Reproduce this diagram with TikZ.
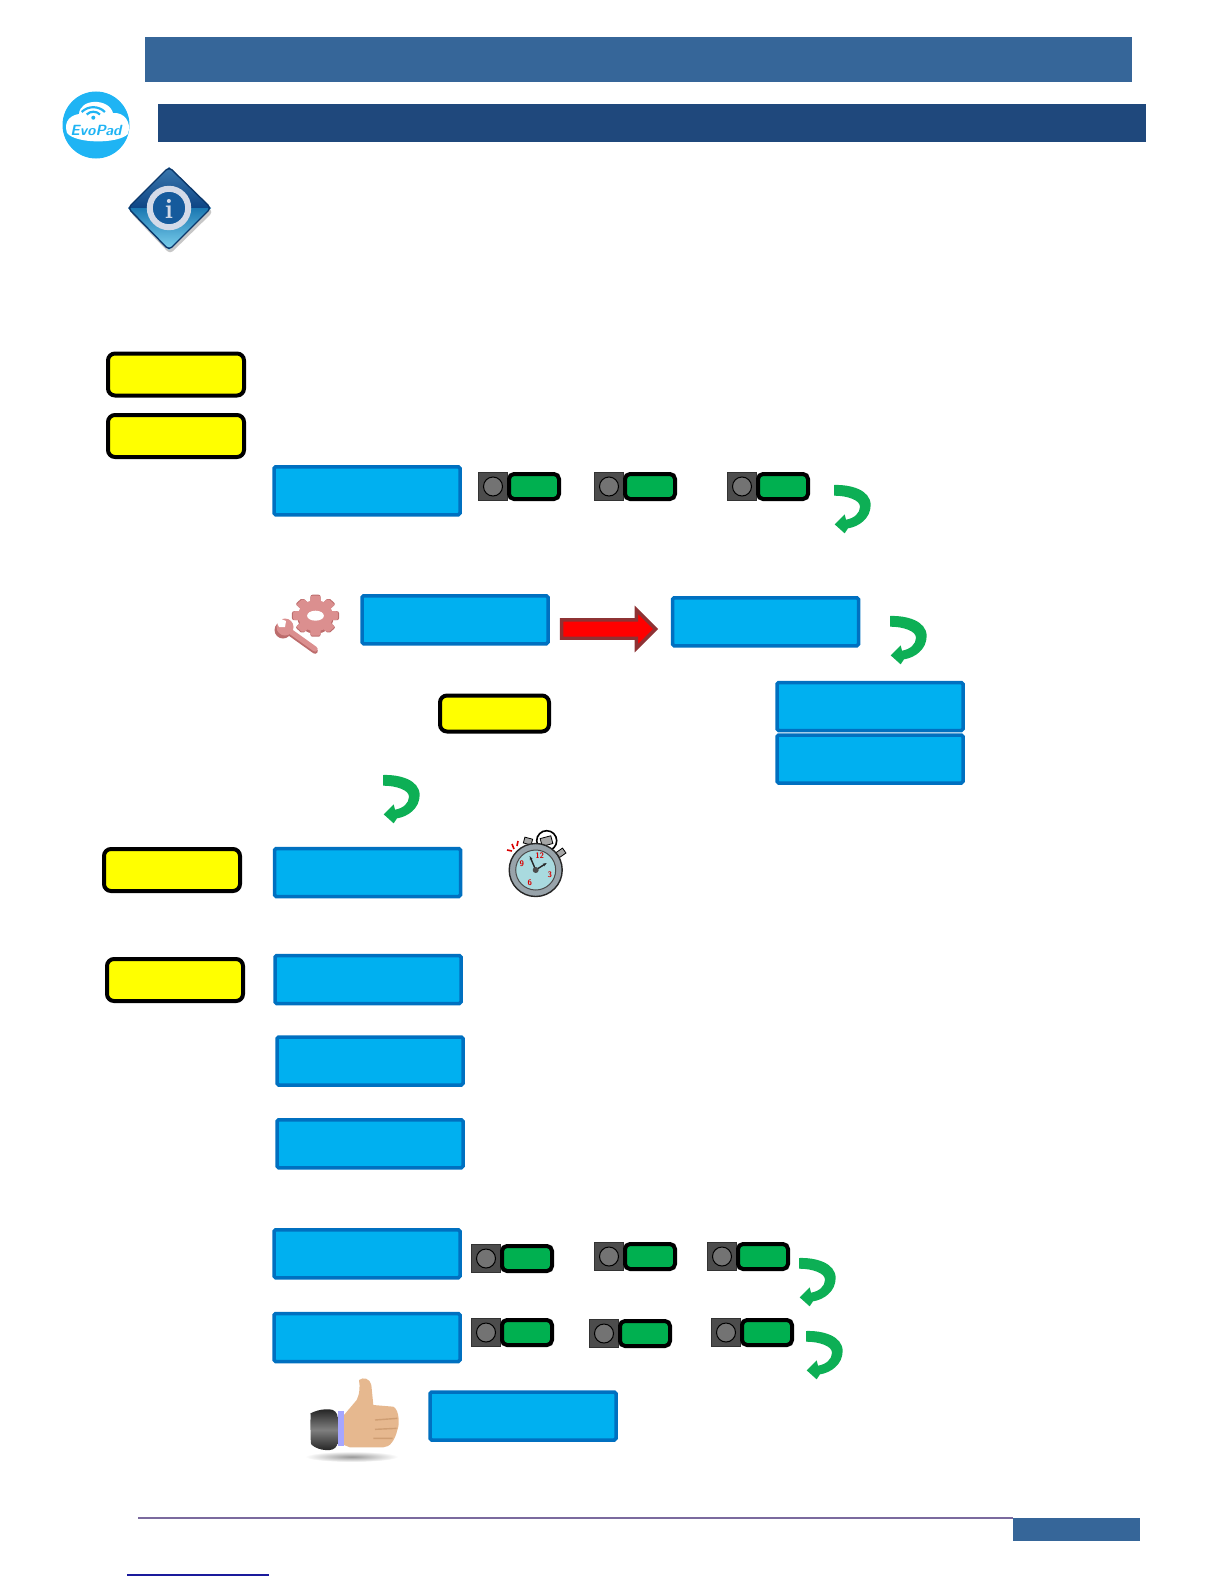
\documentclass[tikz,border=0pt]{standalone}
\usepackage{xcolor}
\usepackage{tikz}
\usetikzlibrary{positioning,arrows.meta,shapes.geometric,shapes.arrows,calc}

\definecolor{bandlight}{HTML}{366699}
\definecolor{banddark}{HTML}{1F487C}
\definecolor{boxfill}{HTML}{00B0F0}
\definecolor{boxline}{HTML}{0070C0}
\definecolor{notefill}{HTML}{FFFF00}
\definecolor{turngreen}{HTML}{0DAF55}
\definecolor{barfill}{HTML}{00B050}
\definecolor{gearpink}{HTML}{DB8F8F}
\definecolor{gearshade}{HTML}{BC6C6C}
\definecolor{skin}{HTML}{E6B88F}
\definecolor{skinline}{HTML}{CF9E73}
\definecolor{rulepurple}{HTML}{7B6A9E}
\definecolor{logoblue}{HTML}{1FB4F4}
\definecolor{linkblue}{HTML}{1A1A9C}
\definecolor{infotop}{HTML}{3A78AE}
\definecolor{infomid}{HTML}{0E4585}
\definecolor{infolow}{HTML}{1B78B2}
\definecolor{infoend}{HTML}{7ED2EE}
\definecolor{inforing}{HTML}{D3DAE8}
\definecolor{infodisc}{HTML}{155A9C}
\definecolor{watchring}{HTML}{98A3AA}
\definecolor{watchface}{HTML}{A9DADF}
\definecolor{redline}{HTML}{8E3234}

\begin{document}
\begin{tikzpicture}[x=0.5pt,y=-0.5pt,
  band/.style={inner sep=0pt, outer sep=0pt, minimum width=#1},
  bluebox/.style={draw=boxline, fill=boxfill, line width=1.75pt, rounded corners=0.8pt, inner sep=0pt, minimum width=93pt, minimum height=24pt},
  notebox/.style={draw=black, fill=notefill, line width=2pt, rounded corners=3.5pt, inner sep=0pt, minimum width=68pt, minimum height=21pt},
  lampbase/.style={draw=black!80, fill=black!70, line width=0.5pt, inner sep=0pt, minimum width=14.5pt, minimum height=14pt},
  lampdot/.style={circle, draw=black, fill=black!55, line width=0.5pt, inner sep=0pt, minimum size=9.5pt},
  lampbar/.style={draw=black, fill=barfill, line width=2pt, rounded corners=2.5pt, inner sep=0pt, minimum width=25pt, minimum height=12.5pt},
  lamp/.pic={
    \node[lampbase] (-base) at (15,14.5) {};
    \node[lampdot] (-dot) at (-base.center) {};
    \node[lampbar] (-bar) at (56,14.5) {};
  },
  turn/.pic={
    \fill[turngreen, scale=1/3] (0,0) .. controls (50,-2) and (110,15) .. (110,60) .. controls (110,100) and (75,125) .. (42,130) -- (32,145) -- (2,118) -- (32,88) -- (36,104) .. controls (60,100) and (78,85) .. (78,65) .. controls (78,45) and (40,32) .. (0,32) -- cycle;
  }]
\useasboundingbox (0,0) rectangle (1224,1584);
% header
\node[band=493.5pt, fill=bandlight, minimum height=22.4pt] (bandtop) at (638.5,59.3) {};
\node[band=494pt, fill=banddark, minimum height=18.9pt] (bandsub) at (652,122.8) {};
% logo
\node[circle, fill=logoblue, inner sep=0pt, minimum size=33.5pt] (logo) at (96,125) {};
\fill[white] (67,133) .. controls (63,120) and (72,115) .. (79,114) .. controls (80,98) and (109,98) .. (113,113) .. controls (124,112) and (132,122) .. (128,134) .. controls (118,144) and (76,144) .. (67,133) -- cycle;
\draw[logoblue, line width=1.1pt] (81.7,112) arc[start angle=-135, end angle=-45, radius=16.4];
\draw[logoblue, line width=1.1pt] (86.7,114.5) arc[start angle=-135, end angle=-45, radius=9.4];
\fill[logoblue] (93.3,117.7) circle (2);
\node[font=\sffamily\bfseries\itshape\fontsize{7.4}{7.4}\selectfont, text=logoblue, inner sep=0pt] (logotext) at (96,130) {EvoPad};
% info sign
\fill[black!22, rounded corners=2pt] (170,171) -- (213,212) -- (170,254) -- (130,212) -- cycle;
\shade[top color=infotop, bottom color=infomid] (169,167) -- (211,208) -- (128,208) -- cycle;
\shade[top color=infolow, bottom color=infoend] (128,208) -- (211,208) -- (169,250) -- cycle;
\draw[infomid!80!black, line width=0.7pt, rounded corners=2pt] (169,167) -- (211,208) -- (169,250) -- (128,208) -- cycle;
\node[circle, draw=inforing, fill=infodisc, line width=3pt, inner sep=0pt, minimum size=19.2pt] (infoc) at (169,208) {};
\node[font=\bfseries\fontsize{14}{14}\selectfont, text=inforing, inner sep=0pt] (infoi) at (169,209) {i};
% yellow tags
\node[notebox] (tagone) at (176,374.5) {};
\node[notebox] (tagtwo) at (176,436) {};
\node[notebox, minimum width=54.5pt, minimum height=18pt] (tagmid) at (494.5,713.5) {};
\node[notebox] (tagthree) at (172,870) {};
\node[notebox] (tagfour) at (175,980) {};
% blue boxes
\node[bluebox] (stepa) at (367,490.75) {};
\node[bluebox] (stepb) at (455,619.75) {};
\node[bluebox] (stepc) at (765.5,621.75) {};
\node[bluebox] (stepd) at (870,706.5) {};
\node[bluebox, below=0.5pt of stepd] (stepe) {};
\node[bluebox] (stepf) at (367.5,872.5) {};
\node[bluebox] (stepg) at (368,979.5) {};
\node[bluebox] (steph) at (370,1061) {};
\node[bluebox] (stepi) at (370,1143.75) {};
\node[bluebox] (stepj) at (367,1253.75) {};
\node[bluebox] (stepk) at (367,1337.5) {};
\node[bluebox] (stepl) at (523,1416) {};
% lamps
\foreach \i/\xx/\yy in {a/478/472,b/594/472,c/727/472,d/471/1244,e/594/1242,f/707/1242,g/471/1318,h/589/1319,j/711/1318}
  \pic (lamp\i) at (\xx,\yy) {lamp};
% turn arrows
\foreach \xx/\yy in {834/485,890/616,383/775,799/1258,806/1331}
  \pic at (\xx,\yy) {turn};
% red arrow
\node[single arrow, draw=redline, fill=red, line width=1.7pt, inner xsep=0pt, inner ysep=3.75pt, minimum height=47pt, single arrow head extend=5pt] (redarrow) at (604,629) {};
% wrench and gear
\fill[gearshade] (283,630) circle (8.5);
\draw[gearshade, line width=2.8pt, line cap=round] (287,631) -- (315,651);
\fill[gearpink] (285,627) circle (8.5);
\draw[gearpink, line width=2.6pt, line cap=round] (287,629) -- (315,649);
\fill[white] (274,616) -- (286,621) -- (285,627) -- (279,627) -- cycle;
\begin{scope}[shift={(315.5,615.7)},xscale=1.12]
  \foreach \a in {0,45,...,315}
    \fill[gearshade, rotate=\a, rounded corners=1pt] (-4.5,-21) rectangle (4.5,-10);
  \fill[gearshade] (0,2) circle (16);
  \foreach \a in {0,45,...,315}
    \fill[gearpink, rotate=\a, rounded corners=1pt] (-4.5,-20) rectangle (4.5,-10);
  \fill[gearpink] (0,0) circle (15.5);
  \fill[white] (0,0) ellipse (7.5 and 5);
\end{scope}
% stopwatch
\draw[black, line width=0.8pt, fill=white] (546.7,840.7) circle (10);
\fill[black!35, draw=black, rotate around={15:(546.7,841)}] (541,837) rectangle (552,845);
\fill[black!35, draw=black, rotate around={-15:(527.7,841)}] (524,838) rectangle (532,844);
\fill[black!35, draw=black, rotate around={35:(560.7,853)}] (557,850) rectangle (565,856);
\node[circle, draw=black!85, fill=watchring, line width=0.7pt, inner sep=0pt, minimum size=26.5pt] (watch) at (535.7,870) {};
\node[circle, draw=black!70, fill=watchface, line width=0.5pt, inner sep=0pt, minimum size=20pt] (dial) at (535.7,870) {};
\foreach \lab/\xx/\yy in {12/4/-14,3/14/5,6/-6/13,9/-14/-6}
  \node[font=\sffamily\bfseries\fontsize{4}{4}\selectfont, text=red!85!black, inner sep=0pt] at ($(dial.center)+(\xx,\yy)$) {\lab};
\draw[black!85, line width=0.7pt, -{Stealth[length=2pt]}] (dial.center) -- ++(-6,-14);
\draw[black!85, line width=0.7pt, -{Stealth[length=2pt]}] (dial.center) -- ++(11,-7);
\fill[black!70] (dial.center) circle (3);
\draw[red!85!black, line width=0.8pt] (507,850) -- (512,851) (512,844) -- (514,849) (518,841) -- (517,846);
% thumb
\begin{scope}[shift={(290,1360)},scale=1/3]
  \shade[inner color=black!40, outer color=white] (185,290) ellipse (140 and 16);
  \shade[top color=black!85, bottom color=black!85, middle color=black!50, rounded corners=4pt] (143,148) -- (82,148) .. controls (62,160) and (60,250) .. (82,270) -- (143,270) -- cycle;
  \fill[blue!35!white] (143,152) rectangle (162,258);
  \fill[skin] (162,165) -- (200,120) .. controls (210,100) and (210,80) .. (207,60) .. controls (220,50) and (240,55) .. (244,75) -- (250,135) -- (310,140) .. controls (330,150) and (328,200) .. (322,210) .. controls (315,240) and (300,262) .. (280,262) -- (180,262) -- (162,255) -- cycle;
  \draw[skinline, line width=0.7pt] (255,180) -- (322,175) (255,208) -- (320,205) (250,235) -- (308,235);
\end{scope}
% footer
\node[band=63.5pt, fill=bandlight, minimum height=11.5pt] (footbox) at (1076.5,1529.5) {};
\coordinate (rulestart) at (138,0 |- footbox.north west);
\draw[rulepurple, line width=0.6pt] (rulestart) -- (footbox.north west);
\coordinate (linkstart) at (127,1575);
\coordinate (linkend) at (269,1575);
\draw[linkblue, line width=0.65pt] (linkstart) -- (linkend);
\end{tikzpicture}
\end{document}
